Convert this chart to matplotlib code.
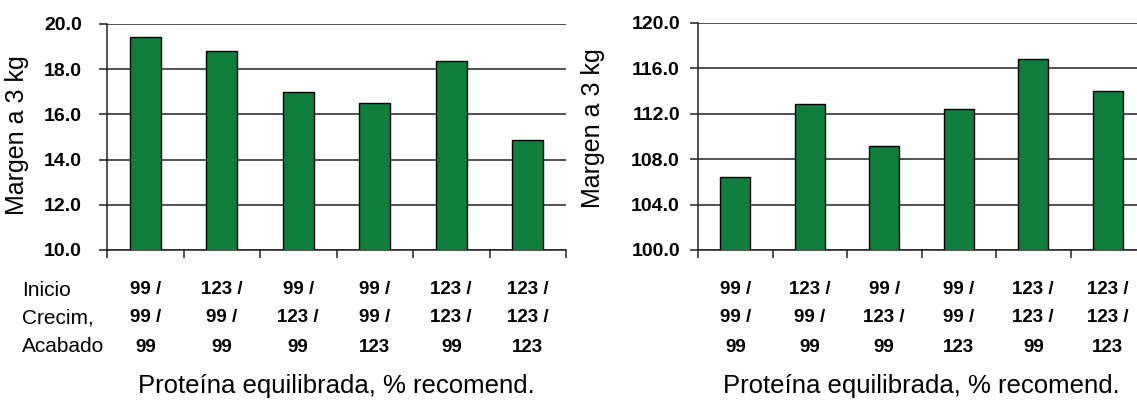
import matplotlib
matplotlib.use("Agg")
import matplotlib.pyplot as plt
from matplotlib.ticker import FormatStrFormatter
import matplotlib.transforms as mtransforms

# Balanced protein level (% of recommendation) for each feeding phase
inicio = [99, 123, 99, 99, 123, 123]
crecim = [99, 99, 123, 99, 123, 123]
acabado = [99, 99, 99, 123, 99, 123]

# Margin at 3 kg for the two trials
margen_a = [19.44, 18.80, 17.00, 16.50, 18.38, 14.87]
margen_b = [106.4, 112.9, 109.2, 112.4, 116.8, 114.0]

ylim_a = (10.0, 20.0)
ylim_b = (100.0, 120.0)
yticks_a = [10.0, 12.0, 14.0, 16.0, 18.0, 20.0]
yticks_b = [100.0, 104.0, 108.0, 112.0, 116.0, 120.0]

row_names = ["Inicio", "Crecim,", "Acabado"]
ylabel = "Margen a 3 kg"
xlabel = "Proteína equilibrada, % recomend."

BAR = "#0f7d3c"
plt.rcParams["font.family"] = ["Liberation Sans", "DejaVu Sans"]

W, H = 1137, 403
fig = plt.figure(figsize=(W / 100, H / 100), dpi=100)


def px_box(x0, x1, ytop, ybot):
    return [x0 / W, 1 - ybot / H, (x1 - x0) / W, (ybot - ytop) / H]


def panel(rect, values, ylim, yticks, ypad, ylab_xy, xlab_x):
    ax = fig.add_axes(rect)
    x = list(range(len(values)))
    ax.bar(x, values, width=0.4, color=BAR, edgecolor="black", linewidth=1.0, zorder=3)
    ax.set_xlim(-0.5, len(values) - 0.5)
    ax.set_ylim(*ylim)
    ax.set_yticks(yticks)
    ax.yaxis.set_major_formatter(FormatStrFormatter("%.1f"))
    ax.grid(axis="y", color="#222222", linewidth=1.1, zorder=1)
    ax.set_xticks([i - 0.5 for i in range(len(values) + 1)])
    ax.set_xticklabels([])
    ax.tick_params(axis="x", direction="out", length=6, width=1.1, color="#222222")
    ax.tick_params(axis="y", direction="out", length=6, width=1.1, color="#222222",
                   pad=ypad, labelsize=14)
    for lbl in ax.get_yticklabels():
        lbl.set_fontweight("bold")
    for s in ("top", "right"):
        ax.spines[s].set_visible(False)
    for s in ("left", "bottom"):
        ax.spines[s].set_color("#222222")
        ax.spines[s].set_linewidth(1.1)
    ax.set_ylabel(ylabel, fontsize=18)
    ax.yaxis.set_label_coords(*ylab_xy)

    # three-line category labels under each bar
    trans = mtransforms.blended_transform_factory(ax.transData, fig.transFigure)
    rows_y = [290, 318, 347]
    for i in x:
        parts = [f"{inicio[i]} /", f"{crecim[i]} /", f"{acabado[i]}"]
        for ry, txt in zip(rows_y, parts):
            ax.text(i, 1 - ry / H, txt, transform=trans, ha="center", va="center",
                    fontsize=13.5, fontweight="bold", clip_on=False)
    fig.text(xlab_x / W, 1 - 386 / H, xlabel, ha="center", va="center", fontsize=18.5)
    return ax


ax1 = panel(px_box(107, 566, 24, 250), margen_a, ylim_a, yticks_a, 12,
            (-0.17, 0.51), 336)
ax2 = panel(px_box(698, 1145, 23, 250), margen_b, ylim_b, yticks_b, 7,
            (-0.208, 0.537), 921)

for ry, name in zip([290, 318, 347], row_names):
    fig.text(22 / W, 1 - ry / H, name, ha="left", va="center", fontsize=15)

fig.savefig("out.png", dpi=100)
